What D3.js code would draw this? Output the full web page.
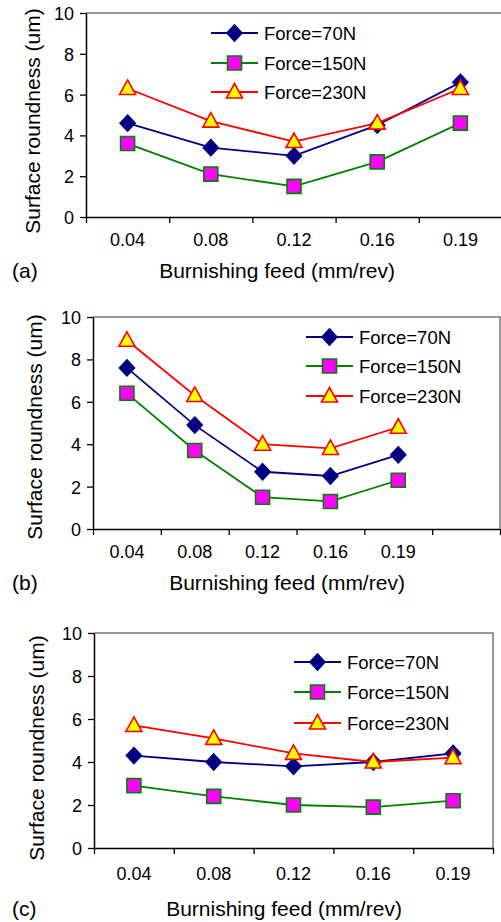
<!DOCTYPE html>
<html lang="en">
<head>
    <meta charset="UTF-8">
    <title>Surface roundness vs burnishing feed</title>
    <script src="https://d3js.org/d3.v7.min.js"></script>
    <style>
        body { margin: 0; background: #fff; }
        svg { display: block; }
        svg text { font-family: "Liberation Sans", Arial, sans-serif; fill: #000; }
        .tick text { font-size: 18px; }
        .axis-title { font-size: 21px; }
        .legend text { font-size: 18.5px; }
    </style>
</head>
<body>
    <div id="chart"></div>

    <script>
        // categories on the x axis
        const feeds = ["0.04", "0.08", "0.12", "0.16", "0.19"];
        const yTicks = [0, 2, 4, 6, 8, 10];
        const seriesNames = ["Force=70N", "Force=150N", "Force=230N"];

        // panel (a)
        const a70 = [4.6, 3.4, 3.0, 4.5, 6.6];
        const a150 = [3.6, 2.1, 1.5, 2.7, 4.6];
        const a230 = [6.3, 4.7, 3.7, 4.6, 6.3];

        // panel (b)
        const b70 = [7.6, 4.9, 2.7, 2.5, 3.5];
        const b150 = [6.4, 3.7, 1.5, 1.3, 2.3];
        const b230 = [8.9, 6.3, 4.0, 3.8, 4.8];

        // panel (c)
        const c70 = [4.3, 4.0, 3.8, 4.0, 4.4];
        const c150 = [2.9, 2.4, 2.0, 1.9, 2.2];
        const c230 = [5.7, 5.1, 4.4, 4.0, 4.2];

        const styles = [
            { line: "#000080", fill: "#000080", stroke: "#000080", shape: "diamond" },
            { line: "#008000", fill: "#ff00ff", stroke: "#008000", shape: "square" },
            { line: "#ff0000", fill: "#ffff00", stroke: "#ff0000", shape: "triangle" }
        ];

        const panels = [
            { tag: "(a)", series: [a70, a150, a230], left: 86, right: 502, top: 13, bottom: 217, bands: 5,
              legX: 211, legY: [33, 63, 92], tickY: 246, titleY: 278, titleX: 277, yTitleX: 33, yTitleY: 121 },
            { tag: "(b)", series: [b70, b150, b230], left: 93, right: 500, top: 317, bottom: 529, bands: 6,
              legX: 306, legY: [337, 366, 396], tickY: 558, titleY: 590, titleX: 287, yTitleX: 35, yTitleY: 427 },
            { tag: "(c)", series: [c70, c150, c230], left: 94, right: 493, top: 633, bottom: 848, bands: 5,
              legX: 294, legY: [662, 692, 723], tickY: 880, titleY: 916, titleX: 284, yTitleX: 37, yTitleY: 748 }
        ];

        const width = 501, height = 922;
        const svg = d3.select("#chart").append("svg")
            .attr("width", width)
            .attr("height", height);

        function marker(shape) {
            if (shape === "diamond") return "M0,-8L7.5,0L0,8L-7.5,0Z";
            if (shape === "square") return "M-7,-7H7V7H-7Z";
            return "M0,-8.5L8,6L-8,6Z";
        }

        function drawPanel(p) {
            const g = svg.append("g");
            const bandW = (p.right - p.left) / p.bands;

            const xIdx = d3.scaleLinear().domain([0, p.bands]).range([p.left, p.right]);
            const x = d3.scaleBand().domain(feeds).range([p.left, p.left + bandW * feeds.length]);
            const y = d3.scaleLinear().domain([0, 10]).range([p.bottom, p.top]);

            // frame (top and right)
            g.append("path")
                .attr("d", `M${p.left},${p.top}H${p.right}V${p.bottom}`)
                .attr("fill", "none")
                .attr("stroke", "#777")
                .attr("stroke-width", 1.5);

            // y axis
            g.append("g")
                .attr("transform", `translate(${p.left},0)`)
                .call(d3.axisLeft(y).tickValues(yTicks).tickSize(6).tickPadding(6).tickSizeOuter(0))
                .call(s => s.attr("font-family", null).attr("font-size", null))
                .call(s => s.select(".domain").attr("stroke-width", 1.5))
                .call(s => s.selectAll(".tick line").attr("stroke-width", 1.3))
                .call(s => s.selectAll(".tick text").attr("dy", "0.36em"));

            // x axis ticks at band boundaries
            g.append("g")
                .attr("transform", `translate(0,${p.bottom})`)
                .call(d3.axisBottom(xIdx).ticks(p.bands).tickFormat("").tickSize(6).tickSizeOuter(0))
                .call(s => s.select(".domain").attr("stroke-width", 1.5))
                .call(s => s.selectAll(".tick line").attr("stroke-width", 1.3));

            // x tick labels at band centres
            g.append("g")
                .attr("transform", `translate(0,${p.tickY})`)
                .call(d3.axisBottom(x).tickSize(0).tickPadding(0))
                .call(s => s.attr("font-family", null).attr("font-size", null))
                .call(s => s.select(".domain").remove())
                .call(s => s.selectAll(".tick text").attr("dy", 0).attr("y", 0));

            g.append("text")
                .attr("class", "axis-title")
                .attr("x", p.titleX)
                .attr("y", p.titleY)
                .attr("text-anchor", "middle")
                .text("Burnishing feed (mm/rev)");

            g.append("text")
                .attr("class", "axis-title")
                .attr("transform", `translate(${p.yTitleX + 7},${p.yTitleY}) rotate(-90)`)
                .attr("text-anchor", "middle")
                .text("Surface roundness (um)");

            g.append("text")
                .attr("class", "axis-title")
                .attr("x", 12)
                .attr("y", p.titleY)
                .text(p.tag);

            const line = d3.line()
                .x((d, i) => x(feeds[i]) + x.bandwidth() / 2)
                .y(d => y(d));

            p.series.forEach((vals, si) => {
                const st = styles[si];
                g.append("path")
                    .datum(vals)
                    .attr("fill", "none")
                    .attr("stroke", st.line)
                    .attr("stroke-width", 1.8)
                    .attr("d", line);

                g.selectAll(null)
                    .data(vals)
                    .join("path")
                    .attr("transform", (d, i) => `translate(${x(feeds[i]) + x.bandwidth() / 2},${y(d)})`)
                    .attr("d", marker(st.shape))
                    .attr("fill", st.fill)
                    .attr("stroke", st.stroke)
                    .attr("stroke-width", 1.6);
            });

            // legend
            const leg = g.append("g").attr("class", "legend");
            seriesNames.forEach((name, si) => {
                const st = styles[si];
                const ly = p.legY[si];
                leg.append("line")
                    .attr("x1", p.legX).attr("x2", p.legX + 47)
                    .attr("y1", ly).attr("y2", ly)
                    .attr("stroke", st.line)
                    .attr("stroke-width", 1.8);
                leg.append("path")
                    .attr("transform", `translate(${p.legX + 23.5},${ly})`)
                    .attr("d", marker(st.shape))
                    .attr("fill", st.fill)
                    .attr("stroke", st.stroke)
                    .attr("stroke-width", 1.6);
                leg.append("text")
                    .attr("x", p.legX + 53)
                    .attr("y", ly)
                    .attr("dy", "0.36em")
                    .text(name);
            });
        }

        panels.forEach(drawPanel);
    </script>
</body>
</html>
